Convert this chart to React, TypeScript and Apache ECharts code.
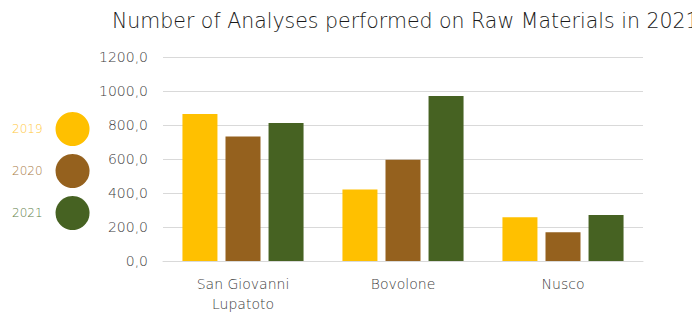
import React, { useEffect, useRef } from "react";
import * as echarts from "echarts";

const categories = ["San Giovanni\nLupatoto", "Bovolone", "Nusco"];
const years = ["2019", "2020", "2021"];
const values2019 = [865, 421, 258];
const values2020 = [732, 595, 169];
const values2021 = [812, 970, 270];
const yTicks = [0, 200, 400, 600, 800, 1000, 1200];

const barColors = ["#FFC000", "#95611E", "#466222"];
const legendTextColors = ["#FFC83A", "#A87A45", "#62804A"];

export default function App() {
  const ref = useRef<HTMLDivElement>(null);
  useEffect(() => {
    document.body.style.margin = "0";
    if (!ref.current) return;
    const chart = echarts.init(ref.current, null, { renderer: "svg" });
    const font = "'DejaVu Sans', sans-serif";
    const seriesValues = [values2019, values2020, values2021];
    chart.setOption({
      animation: false,
      title: {
        text: "Number of Analyses performed on Raw Materials in 2021",
        left: 107,
        top: 5,
        textStyle: { fontFamily: font, fontSize: 20.5, fontWeight: 200, color: "#1A1A1A" },
      },
      legend: {
        orient: "vertical",
        left: 7,
        top: 107,
        itemWidth: 34,
        itemHeight: 34,
        itemGap: 8,
        align: "right",
        icon: "circle",
        data: years.map((y, i) => ({
          name: y,
          textStyle: { color: legendTextColors[i] },
        })),
        textStyle: { fontFamily: font, fontSize: 12, fontWeight: 200, padding: [0, 8, 0, 0] },
      },
      grid: { left: 163, right: 49, top: 57, bottom: 52, containLabel: false },
      xAxis: {
        type: "category",
        data: categories,
        axisLine: { lineStyle: { color: "#D9D9D9", width: 1 } },
        axisTick: { show: false },
        axisLabel: {
          fontFamily: font,
          fontSize: 14,
          fontWeight: 200,
          color: "#404040",
          margin: 13,
          lineHeight: 20,
        },
      },
      yAxis: {
        type: "value",
        min: yTicks[0],
        max: yTicks[yTicks.length - 1],
        interval: 200,
        axisLine: { show: false },
        axisTick: { show: false },
        splitLine: { lineStyle: { color: "#D9D9D9", width: 1 } },
        axisLabel: {
          fontFamily: font,
          fontSize: 14,
          fontWeight: 200,
          color: "#404040",
          margin: 15,
          formatter: (v: number) => v.toFixed(1).replace(".", ","),
        },
      },
      series: years.map((y, i) => ({
        name: y,
        type: "bar",
        data: seriesValues[i],
        barWidth: 35,
        barGap: "23%",
        itemStyle: { color: barColors[i] },
      })),
    });
    return () => chart.dispose();
  }, []);
  return <div ref={ref} style={{ width: 692, height: 314 }} />;
}
